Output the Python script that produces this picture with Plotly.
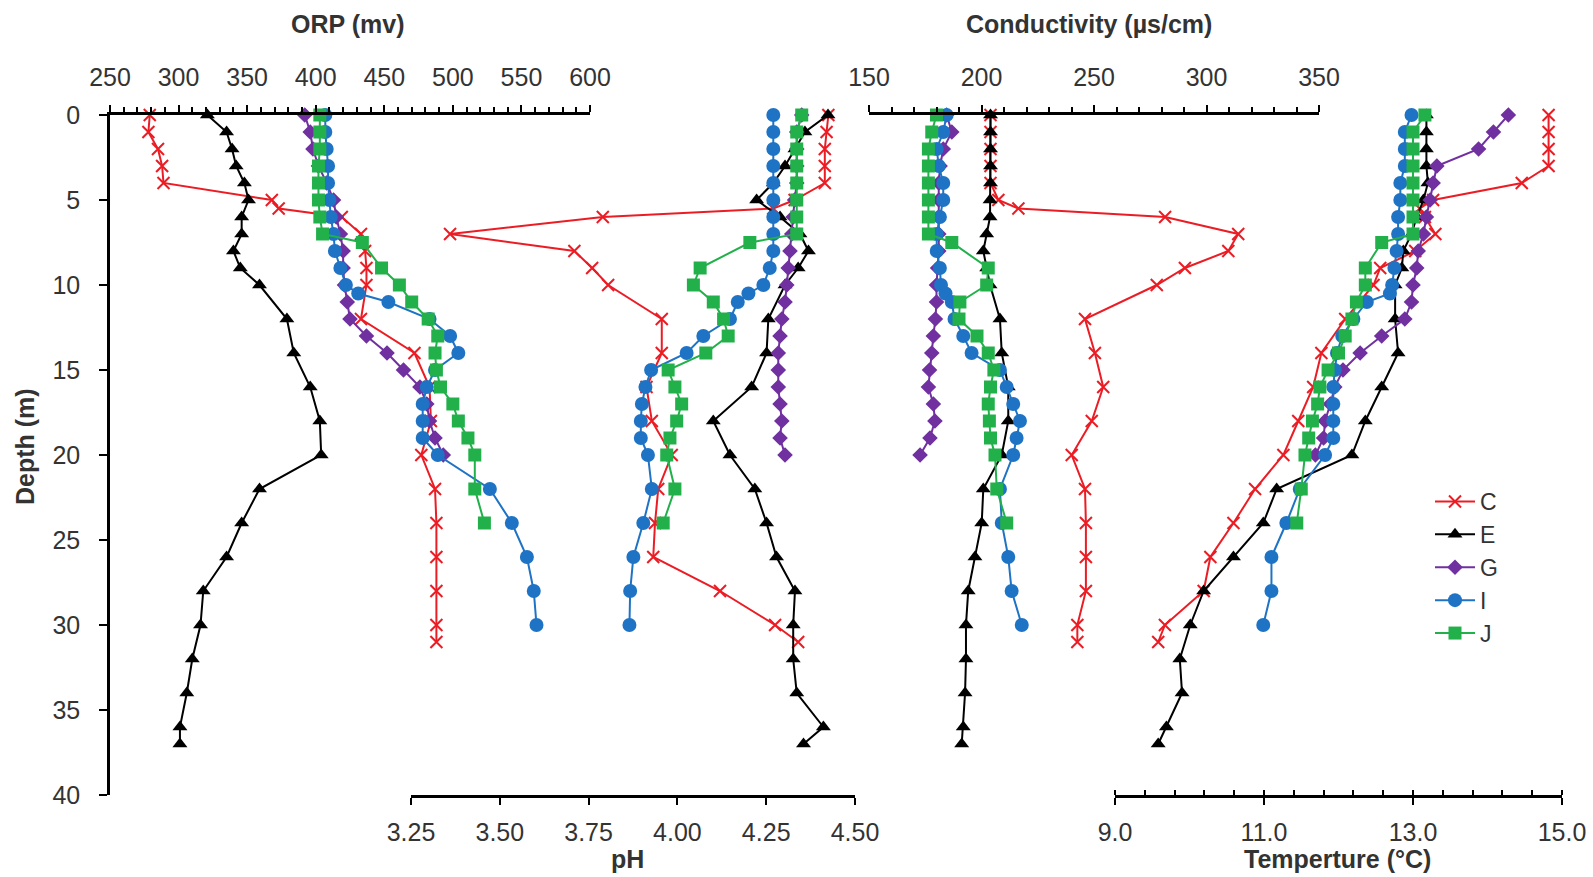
import plotly.graph_objects as go

# ---- sampling depths (m) per station ----
depth_C = [0, 1, 2, 3, 4, 5, 5.5, 6, 7, 8, 9, 10, 12, 14, 16, 18, 20, 22, 24, 26, 28, 30, 31]
depth_E = [0, 1, 2, 3, 4, 5, 6, 7, 8, 9, 10, 12, 14, 16, 18, 20, 22, 24, 26, 28, 30, 32, 34, 36, 37]
depth_G = [0, 1, 2, 3, 4, 5, 6, 7, 8, 9, 10, 11, 12, 13, 14, 15, 16, 17, 18, 19, 20]
depth_I = [0, 1, 2, 3, 4, 5, 6, 7, 8, 9, 10, 10.5, 11, 12, 13, 14, 15, 16, 17, 18, 19, 20, 22, 24, 26, 28, 30]
depth_J = [0, 1, 2, 3, 4, 5, 6, 7, 7.5, 9, 10, 11, 12, 13, 14, 15, 16, 17, 18, 19, 20, 22, 24]

# ---- ORP (mV) ----
orp_C = [279, 278, 285, 288, 289, 368, 373, 419, 433, 436, 437, 437, 433, 472, 483, 484, 477, 487, 488, 488, 488, 488, 488]
orp_E = [321, 335, 339, 342, 348, 351, 346, 346, 340, 345, 359, 379, 384, 396, 403, 404, 359, 346, 335, 318, 316, 310, 306, 301, 301]
orp_G = [392, 396, 398, 402, 408, 413, 415, 418, 420, 420, 421, 423, 425, 437, 452, 464, 476, 481, 483, 487, 493]
orp_I = [407, 407, 408, 409, 409, 410, 411, 413, 414, 418, 422, 431, 453, 483, 498, 504, 487, 481, 478, 478, 478, 489, 527, 543, 554, 559, 561]
orp_J = [403, 403, 403, 402, 402, 402, 403, 405, 434, 448, 461, 470, 482, 489, 487, 488, 491, 500, 504, 511, 516, 516, 523]

# ---- pH ----
ph_C = [4.425, 4.42, 4.415, 4.415, 4.415, 4.33, 4.27, 3.79, 3.36, 3.71, 3.76, 3.805, 3.956, 3.956, 3.913, 3.928, 3.984, 3.946, 3.937, 3.932, 4.12, 4.275, 4.34]
ph_E = [4.424, 4.359, 4.331, 4.303, 4.27, 4.223, 4.289, 4.345, 4.369, 4.34, 4.303, 4.256, 4.251, 4.209, 4.101, 4.148, 4.218, 4.251, 4.279, 4.331, 4.326, 4.326, 4.336, 4.411, 4.355]
ph_G = [4.35, 4.336, 4.336, 4.336, 4.336, 4.33, 4.326, 4.322, 4.317, 4.312, 4.308, 4.303, 4.294, 4.289, 4.284, 4.284, 4.284, 4.289, 4.294, 4.289, 4.303]
ph_I = [4.27, 4.27, 4.27, 4.27, 4.27, 4.27, 4.27, 4.27, 4.27, 4.26, 4.242, 4.2, 4.17, 4.148, 4.073, 4.026, 3.926, 3.91, 3.9, 3.897, 3.897, 3.917, 3.928, 3.904, 3.876, 3.867, 3.865]
ph_J = [4.35, 4.336, 4.336, 4.336, 4.336, 4.336, 4.336, 4.336, 4.204, 4.064, 4.045, 4.101, 4.13, 4.143, 4.08, 3.974, 3.993, 4.012, 3.998, 3.979, 3.97, 3.993, 3.96]

# ---- conductivity (µS/cm) ----
cond_C = [204, 204, 204, 204, 204, 207.5, 216.4, 281.6, 314.1, 309.7, 290.4, 277.9, 246, 250.4, 254.1, 249, 240.1, 246, 246.4, 246.4, 246.4, 242.6, 242.6]
cond_E = [204, 204, 204, 204, 204, 203.8, 203.8, 202.3, 200.8, 202.3, 203.8, 208.2, 209, 211.9, 211.9, 209, 200.8, 200.1, 197.1, 194.1, 193.1, 193.1, 192.7, 191.9, 191.2]
cond_G = [184.5, 186.8, 183, 181.6, 181, 181, 181, 181, 181, 180.5, 180, 180, 179.5, 178.6, 177.9, 176.9, 176.4, 178.6, 179.3, 177.1, 172.7]
cond_I = [184.5, 183, 180.1, 181, 183, 183, 181.5, 180.1, 180.1, 181.5, 182, 184, 186.8, 188, 191.9, 195.6, 208.2, 211.2, 214.1, 217.1, 215.6, 214.1, 208.2, 209, 211.9, 213.4, 217.9]
cond_J = [180, 177.9, 176.4, 176.4, 176.4, 176.4, 176.4, 176.4, 186.8, 203, 202.3, 190.4, 190, 198, 203, 205.5, 204, 203, 203.5, 204, 206, 206.8, 211.2]

# ---- temperature (°C) ----
temp_C = [14.82, 14.82, 14.82, 14.82, 14.46, 13.27, 13.09, 13.16, 13.3, 13.03, 12.56, 12.47, 12.09, 11.77, 11.66, 11.46, 11.26, 10.88, 10.59, 10.28, 10.19, 9.67, 9.58]
temp_E = [13.18, 13.18, 13.18, 13.18, 13.2, 13.14, 13.05, 12.98, 12.87, 12.85, 12.76, 12.76, 12.8, 12.58, 12.36, 12.18, 11.17, 10.99, 10.59, 10.19, 10.01, 9.87, 9.9, 9.69, 9.58]
temp_G = [14.28, 14.08, 13.88, 13.32, 13.27, 13.23, 13.18, 13.14, 13.07, 13.05, 13.0, 12.98, 12.89, 12.58, 12.29, 12.06, 11.95, 11.89, 11.82, 11.8, 11.69]
temp_I = [12.98, 12.89, 12.89, 12.89, 12.83, 12.83, 12.8, 12.8, 12.78, 12.75, 12.72, 12.69, 12.38, 12.2, 12.05, 11.98, 11.95, 11.93, 11.93, 11.93, 11.93, 11.82, 11.48, 11.3, 11.1, 11.1, 10.99]
temp_J = [13.16, 13.0, 13.0, 13.0, 13.0, 13.0, 13.0, 13.0, 12.58, 12.36, 12.36, 12.24, 12.18, 12.09, 12.0, 11.86, 11.75, 11.72, 11.65, 11.6, 11.55, 11.5, 11.44]

stations = ["C", "E", "G", "I", "J"]
depths = {"C": depth_C, "E": depth_E, "G": depth_G, "I": depth_I, "J": depth_J}
orp = {"C": orp_C, "E": orp_E, "G": orp_G, "I": orp_I, "J": orp_J}
ph = {"C": ph_C, "E": ph_E, "G": ph_G, "I": ph_I, "J": ph_J}
cond = {"C": cond_C, "E": cond_E, "G": cond_G, "I": cond_I, "J": cond_J}
temp = {"C": temp_C, "E": temp_E, "G": temp_G, "I": temp_I, "J": temp_J}

colors = {"C": "#ec1c24", "E": "#000000", "G": "#7030a0", "I": "#1f73c4", "J": "#22b04b"}
symbols = {"C": "x-thin-open", "E": "triangle-up", "G": "diamond", "I": "circle", "J": "square"}
sizes = {"C": 12, "E": 13, "G": 12, "I": 14, "J": 13}

FONT = "Liberation Sans, Arial, sans-serif"
INK = "#333333"

fig = go.Figure()
panels = [("x", orp), ("x2", ph), ("x3", cond), ("x4", temp)]
for s in stations:
    for i, (ax, src) in enumerate(panels):
        marker = dict(symbol=symbols[s], size=sizes[s], color=colors[s])
        if s == "C":
            marker["line"] = dict(width=2, color=colors[s])
        fig.add_trace(go.Scatter(
            x=src[s], y=depths[s], xaxis=ax, yaxis="y",
            mode="lines+markers", name=s, legendgroup=s,
            showlegend=(i == 0), cliponaxis=False,
            line=dict(color=colors[s], width=2),
            marker=marker,
        ))

W, H = 1593, 877
def fx(px):
    return px / W
def fy(py):
    return 1 - py / H

y_dom = [fy(795), fy(115)]
tickfont = dict(family=FONT, size=25, color=INK)

def xaxis(dom, rng, side, dtick, fmt, minor=None, minor_dir="outside"):
    ax = dict(
        domain=dom, range=rng, anchor="y", side=side,
        tick0=rng[0], dtick=dtick, tickformat=fmt,
        ticks="outside", ticklen=7, tickwidth=2, tickcolor="black",
        showline=True, linewidth=2.5, linecolor="black",
        showgrid=False, zeroline=False, tickfont=tickfont,
        ticklabelstandoff=9 if side == "top" else 6,
        automargin=False, fixedrange=True,
    )
    if minor:
        ax["minor"] = dict(dtick=minor, tick0=rng[0], ticks=minor_dir, ticklen=5,
                           tickwidth=1.5, tickcolor="black", showgrid=False)
    return ax

def twin(over, dom, rng, side, dtick):
    return dict(
        overlaying=over, domain=dom, range=rng, anchor="y", side=side,
        tick0=rng[0], dtick=dtick, ticks="inside", ticklen=7, tickwidth=2,
        tickcolor="black", showticklabels=False, showline=False,
        showgrid=False, zeroline=False, automargin=False, fixedrange=True,
    )

d_orp = [fx(110), fx(590)]
d_ph = [fx(411), fx(855)]
d_cond = [fx(869), fx(1319)]
d_temp = [fx(1115), fx(1562)]

fig.update_layout(
    width=W, height=H,
    margin=dict(l=0, r=0, t=0, b=0, pad=0, autoexpand=False),
    paper_bgcolor="white", plot_bgcolor="rgba(0,0,0,0)",
    font=dict(family=FONT, color=INK),
    xaxis=xaxis(d_orp, [250, 600], "top", 50, "d", minor=10),
    xaxis2=xaxis(d_ph, [3.25, 4.5], "bottom", 0.25, ".2f"),
    xaxis3=xaxis(d_cond, [150, 350], "top", 50, "d", minor=10),
    xaxis4=xaxis(d_temp, [9, 15], "bottom", 2, ".1f", minor=0.4, minor_dir="inside"),
    xaxis5=twin("x", d_orp, [250, 600], "top", 50),
    xaxis6=twin("x2", d_ph, [3.25, 4.5], "bottom", 0.25),
    xaxis7=twin("x3", d_cond, [150, 350], "top", 50),
    xaxis8=twin("x4", d_temp, [9, 15], "bottom", 2),
    yaxis=dict(
        domain=y_dom, range=[40, 0], anchor="x", side="left",
        tick0=0, dtick=5, ticks="outside", ticklen=8, tickwidth=2, tickcolor="black",
        showline=True, linewidth=2.5, linecolor="black", showgrid=False,
        zeroline=False, tickfont=tickfont, ticklabelstandoff=14,
        automargin=False, fixedrange=True,
    ),
    legend=dict(
        x=fx(1430), y=fy(480), xanchor="left", yanchor="top",
        font=dict(family=FONT, size=23, color=INK),
        bgcolor="rgba(0,0,0,0)", tracegroupgap=0, itemwidth=40,
    ),
    showlegend=True,
)

title_font = dict(family=FONT, size=25, color=INK)
titles = [
    ("<b>ORP (mv)</b>", fx(347), fy(24), 0),
    ("<b>Conductivity (µs/cm)</b>", fx(1089), fy(24), 0),
    ("<b>pH</b>", fx(627), fy(859), 0),
    ("<b>Temperture (°C)</b>", fx(1337), fy(859), 0),
    ("<b>Depth (m)</b>", fx(25), fy(447), -90),
]
for text, x, y, ang in titles:
    fig.add_annotation(text=text, x=x, y=y, xref="paper", yref="paper",
                       xanchor="center", yanchor="middle", showarrow=False,
                       textangle=ang, font=title_font)

fig.write_html("out.html")
